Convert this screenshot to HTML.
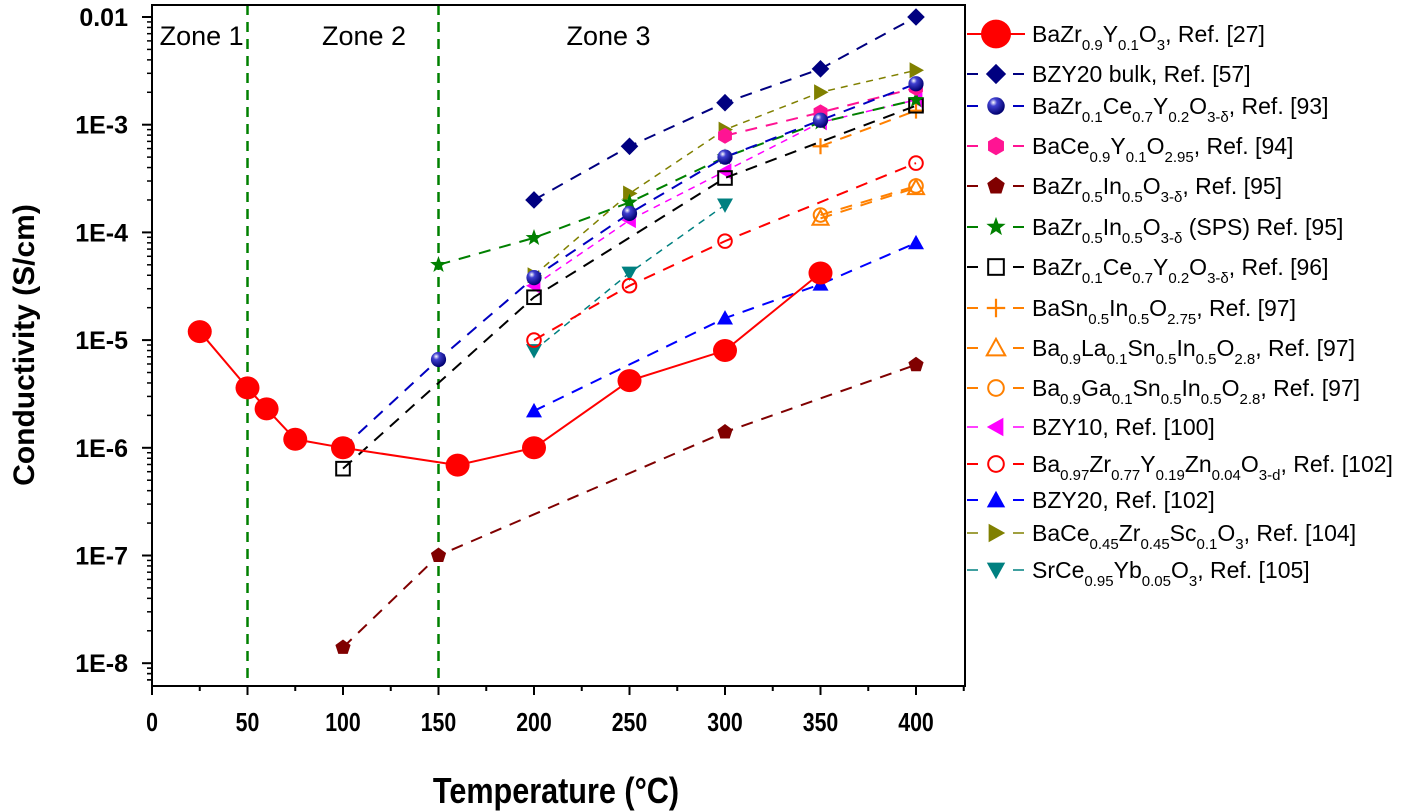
<!DOCTYPE html>
<html><head><meta charset="utf-8"><style>
html,body{margin:0;padding:0;background:#fff;}
svg{display:block;font-family:"Liberation Sans",Arial,sans-serif;}
</style></head><body>
<svg id="chart" width="1417" height="812" viewBox="0 0 1417 812" xmlns="http://www.w3.org/2000/svg">
<defs>
<radialGradient id="sph" cx="0.35" cy="0.3" r="0.7">
<stop offset="0" stop-color="#ffffff"/><stop offset="0.3" stop-color="#4040d0"/><stop offset="1" stop-color="#000070"/>
</radialGradient>
</defs>
<g id="grid-layer"></g>
<g id="axes"></g>
<g id="series"></g>
<g id="legend"></g>
</svg>
<script>
const xTicks=[0,50,100,150,200,250,300,350,400];
const yTickExp=[-2,-3,-4,-5,-6,-7,-8];
const yTickLabels=["0.01","1E-3","1E-4","1E-5","1E-6","1E-7","1E-8"];
const zoneLines=[50,150];
const zoneLabels=["Zone 1","Zone 2","Zone 3"];
const zoneLabelT=[4,89,217];

const sRedT=[25,50,60,75,100,160,200,250,300,350];
const sRedV=[1.2e-5,3.6e-6,2.3e-6,1.2e-6,1.0e-6,6.9e-7,1.0e-6,4.2e-6,8.0e-6,4.2e-5];
const sBulkT=[200,250,300,350,400];
const sBulkV=[2.0e-4,6.3e-4,1.6e-3,3.3e-3,1.0e-2];
const sSphT=[100,150,200,250,300,350,400];
const sSphV=[1.0e-6,6.6e-6,3.8e-5,1.5e-4,5.0e-4,1.1e-3,2.4e-3];
const sHexT=[300,350,400];
const sHexV=[7.9e-4,1.3e-3,2.2e-3];
const sPentT=[100,150,300,400];
const sPentV=[1.4e-8,1.0e-7,1.4e-6,5.9e-6];
const sStarT=[150,200,250,300,350,400];
const sStarV=[5.0e-5,8.9e-5,1.9e-4,5.0e-4,1.05e-3,1.7e-3];
const sSqT=[100,200,300,400];
const sSqV=[6.4e-7,2.5e-5,3.2e-4,1.5e-3];
const sPlusT=[350,400];
const sPlusV=[6.3e-4,1.35e-3];
const sOTriT=[350,400];
const sOTriV=[1.35e-4,2.6e-4];
const sOCirT=[350,400];
const sOCirV=[1.45e-4,2.7e-4];
const sLTriT=[200,250,300,350,400];
const sLTriV=[3.2e-5,1.3e-4,3.7e-4,1.05e-3,1.7e-3];
const sRCirT=[200,250,300,400];
const sRCirV=[1.0e-5,3.2e-5,8.3e-5,4.4e-4];
const sUTriT=[200,300,350,400];
const sUTriV=[2.2e-6,1.6e-5,3.3e-5,8.0e-5];
const sRTriT=[200,250,300,350,400];
const sRTriV=[4.0e-5,2.3e-4,9.0e-4,2.0e-3,3.2e-3];
const sDTriT=[200,250,300];
const sDTriV=[8.0e-6,4.2e-5,1.8e-4];

const NS="http://www.w3.org/2000/svg";
const X0=152,XS=1.91,Y2=17,YD=107.7;
const L=152,R=965,T=5,B=686;
function xs(t){return X0+XS*t;}
function ys(v){return Y2+(-2-Math.log10(v))*YD;}
function el(tag,attrs,parent){const e=document.createElementNS(NS,tag);for(const k in attrs)e.setAttribute(k,attrs[k]);parent.appendChild(e);return e;}
const axes=document.getElementById('axes');
const grid=document.getElementById('grid-layer');
const ser=document.getElementById('series');
const leg=document.getElementById('legend');

const fr=el('rect',{x:L,y:T,width:R-L,height:B-T,fill:'none',stroke:'#000','stroke-width':2},axes);



xTicks.forEach(t=>{
  const x=xs(t);
  el('line',{x1:x,y1:B,x2:x,y2:B+9,stroke:'#000','stroke-width':2},axes);
  const tx=el('text',{x:x,y:B+45,'text-anchor':'middle','font-size':26,'font-weight':'bold',transform:`translate(${x},0) scale(0.82,1) translate(${-x},0)`},axes);
  tx.textContent=t;
  
  
});
for(let t=25;t<=425;t+=50){const x=xs(t);el('line',{x1:x,y1:B,x2:x,y2:B+5,stroke:'#000','stroke-width':2},axes);}
yTickExp.forEach((e,i)=>{
  const y=ys(Math.pow(10,e));
  el('line',{x1:L-10,y1:y,x2:L,y2:y,stroke:'#000','stroke-width':2},axes);
  const tx=el('text',{x:128,y:y+9,'text-anchor':'end','font-size':25,'font-weight':'bold'},axes);
  tx.textContent=yTickLabels[i];
  
  
  for(let m=2;m<=9;m++){const v=m*Math.pow(10,e-1);const yy=ys(v);if(yy<B&&yy>T)el('line',{x1:L-5,y1:yy,x2:L,y2:yy,stroke:'#000','stroke-width':1.5},axes);}
});
for(let m=2;m<=9;m++){const yy=ys(m*1e-9);if(yy<B)el('line',{x1:L-5,y1:yy,x2:L,y2:yy,stroke:'#000','stroke-width':1.5},axes);}

const xt=el('text',{x:556,y:803,'text-anchor':'middle','font-size':36,'font-weight':'bold',transform:'translate(556,0) scale(0.85,1) translate(-556,0)'},axes);
xt.textContent='Temperature (°C)';


const yt=el('text',{x:0,y:0,'text-anchor':'middle','font-size':30,'font-weight':'bold',transform:'translate(34,345) rotate(-90)'},axes);
yt.textContent='Conductivity (S/cm)';



zoneLines.forEach(t=>{
  const ln=el('line',{x1:xs(t),y1:T,x2:xs(t),y2:B,stroke:'#008000','stroke-width':2.5,'stroke-dasharray':'10 7'},grid);
  
  
});
zoneLabels.forEach((s,i)=>{
  const tx=el('text',{x:xs(zoneLabelT[i]),y:45,'font-size':27},grid);
  tx.textContent=s;
  
  
});

function marker(type,x,y,color,g,sc){
  sc=sc||1;
  const r=8*sc;
  switch(type){
    case 'bigcircle': return el('ellipse',{cx:x,cy:y,rx:12*sc,ry:11.5*sc,fill:color},g);
    case 'diamond': return el('polygon',{points:`${x},${y-r*1.1} ${x+r*1.1},${y} ${x},${y+r*1.1} ${x-r*1.1},${y}`,fill:color},g);
    case 'sphere': return el('circle',{cx:x,cy:y,r:r*0.95,fill:'url(#sph)'},g);
    case 'hex': {let p=[];for(let k=0;k<6;k++){const a=Math.PI/6+k*Math.PI/3;p.push((x+r*Math.cos(a))+','+(y+r*Math.sin(a)));}return el('polygon',{points:p.join(' '),fill:color},g);}
    case 'pent': {let p=[];for(let k=0;k<5;k++){const a=-Math.PI/2+k*2*Math.PI/5;p.push((x+r*Math.cos(a))+','+(y+r*Math.sin(a)));}return el('polygon',{points:p.join(' '),fill:color},g);}
    case 'star': {let p=[];for(let k=0;k<10;k++){const a=-Math.PI/2+k*Math.PI/5;const rr=k%2?r*0.45:r*1.1;p.push((x+rr*Math.cos(a))+','+(y+rr*Math.sin(a)));}return el('polygon',{points:p.join(' '),fill:color},g);}
    case 'square': return el('rect',{x:x-r*0.85,y:y-r*0.85,width:r*1.7,height:r*1.7,fill:'#fff','fill-opacity':0,stroke:color,'stroke-width':2},g);
    case 'plus': return el('path',{d:`M${x-r},${y}H${x+r}M${x},${y-r}V${y+r}`,stroke:color,'stroke-width':2.2,fill:'none'},g);
    case 'otri': return el('polygon',{points:`${x},${y-r} ${x+r},${y+r*0.8} ${x-r},${y+r*0.8}`,fill:'none',stroke:color,'stroke-width':2},g);
    case 'ocir': return el('circle',{cx:x,cy:y,r:r*0.85,fill:'none',stroke:color,'stroke-width':2},g);
    case 'ltri': return el('polygon',{points:`${x-r},${y} ${x+r*0.8},${y-r} ${x+r*0.8},${y+r}`,fill:color},g);
    case 'rtri': return el('polygon',{points:`${x+r},${y} ${x-r*0.8},${y-r} ${x-r*0.8},${y+r}`,fill:color},g);
    case 'utri': return el('polygon',{points:`${x},${y-r} ${x+r},${y+r*0.8} ${x-r},${y+r*0.8}`,fill:color},g);
    case 'dtri': return el('polygon',{points:`${x},${y+r} ${x+r},${y-r*0.8} ${x-r},${y-r*0.8}`,fill:color},g);
  }
}

const seriesDefs=[
 {n:'series-bazry-ref27',T:sRedT,V:sRedV,c:'#ff0000',m:'bigcircle',d:'',w:2},
 {n:'series-bzy20-bulk',T:sBulkT,V:sBulkV,c:'#000080',m:'diamond',d:'12 9',w:2},
 {n:'series-bazrcey-ref93',T:sSphT,V:sSphV,c:'#0000c0',m:'sphere',d:'12 9',w:2},
 {n:'series-bacey-ref94',T:sHexT,V:sHexV,c:'#ff1493',m:'hex',d:'12 9',w:2},
 {n:'series-bazrin-ref95',T:sPentT,V:sPentV,c:'#800000',m:'pent',d:'12 9',w:2},
 {n:'series-bazrin-sps',T:sStarT,V:sStarV,c:'#008000',m:'star',d:'12 9',w:2},
 {n:'series-bazrcey-ref96',T:sSqT,V:sSqV,c:'#000000',m:'square',d:'12 9',w:2},
 {n:'series-basnin',T:sPlusT,V:sPlusV,c:'#ff8000',m:'plus',d:'12 9',w:2},
 {n:'series-balasnin',T:sOTriT,V:sOTriV,c:'#ff8000',m:'otri',d:'12 9',w:2},
 {n:'series-bagasnin',T:sOCirT,V:sOCirV,c:'#ff8000',m:'ocir',d:'12 9',w:2},
 {n:'series-bzy10',T:sLTriT,V:sLTriV,c:'#ff00ff',m:'ltri',d:'7 6',w:1.5},
 {n:'series-bazryzn',T:sRCirT,V:sRCirV,c:'#ff0000',m:'ocir',d:'12 9',w:2},
 {n:'series-bzy20-ref102',T:sUTriT,V:sUTriV,c:'#0000ff',m:'utri',d:'12 9',w:2},
 {n:'series-bacezrsc',T:sRTriT,V:sRTriV,c:'#808000',m:'rtri',d:'7 6',w:1.5},
 {n:'series-srceyb',T:sDTriT,V:sDTriV,c:'#008080',m:'dtri',d:'7 6',w:1.5}
];
[...seriesDefs].reverse().forEach(s=>{
  const g=el('g',{},ser);
  
  
  const pts=s.T.map((t,i)=>xs(t)+','+ys(s.V[i])).join(' ');
  const pl=el('polyline',{points:pts,fill:'none',stroke:s.c,'stroke-width':s.w,'stroke-dasharray':s.d},g);
  
  
  s.T.forEach((t,i)=>{
    const mk=marker(s.m,xs(t),ys(s.V[i]),s.c,g);
    
    
  });
});

const legendRows=[
 [['BaZr'],['0.9',1],['Y'],['0.1',1],['O'],['3',1],[', Ref. [27]']],
 [['BZY20 bulk, Ref. [57]']],
 [['BaZr'],['0.1',1],['Ce'],['0.7',1],['Y'],['0.2',1],['O'],['3-δ',1],[', Ref. [93]']],
 [['BaCe'],['0.9',1],['Y'],['0.1',1],['O'],['2.95',1],[', Ref. [94]']],
 [['BaZr'],['0.5',1],['In'],['0.5',1],['O'],['3-δ',1],[', Ref. [95]']],
 [['BaZr'],['0.5',1],['In'],['0.5',1],['O'],['3-δ',1],[' (SPS) Ref. [95]']],
 [['BaZr'],['0.1',1],['Ce'],['0.7',1],['Y'],['0.2',1],['O'],['3-δ',1],[', Ref. [96]']],
 [['BaSn'],['0.5',1],['In'],['0.5',1],['O'],['2.75',1],[', Ref. [97]']],
 [['Ba'],['0.9',1],['La'],['0.1',1],['Sn'],['0.5',1],['In'],['0.5',1],['O'],['2.8',1],[', Ref. [97]']],
 [['Ba'],['0.9',1],['Ga'],['0.1',1],['Sn'],['0.5',1],['In'],['0.5',1],['O'],['2.8',1],[', Ref. [97]']],
 [['BZY10, Ref. [100]']],
 [['Ba'],['0.97',1],['Zr'],['0.77',1],['Y'],['0.19',1],['Zn'],['0.04',1],['O'],['3-d',1],[', Ref. [102]']],
 [['BZY20, Ref. [102]']],
 [['BaCe'],['0.45',1],['Zr'],['0.45',1],['Sc'],['0.1',1],['O'],['3',1],[', Ref. [104]']],
 [['SrCe'],['0.95',1],['Yb'],['0.05',1],['O'],['3',1],[', Ref. [105]']]
];
const legendY=[34,74,106,146,186,227,267,308,348,388,427,464,500,533,570];
seriesDefs.forEach((s,i)=>{
  const y=legendY[i];
  const g=el('g',{},leg);
  
  
  if(s.d===''){
    el('line',{x1:967,y1:y,x2:1025,y2:y,stroke:s.c,'stroke-width':2},g);
  } else {
    el('line',{x1:967,y1:y,x2:978,y2:y,stroke:s.c,'stroke-width':s.w},g);
    el('line',{x1:1013,y1:y,x2:1024,y2:y,stroke:s.c,'stroke-width':s.w},g);
  }
  marker(s.m,996,y,s.c,g,s.m==='bigcircle'?1.25:1.15);
  const tx=el('text',{x:1032,y:y+8,'font-size':23},g);
  let shift=0;
  legendRows[i].forEach(p=>{
    const ts=document.createElementNS(NS,'tspan');
    ts.textContent=p[0];
    if(p[1]){ts.setAttribute('font-size','15');ts.setAttribute('dy',String(8-shift));shift=8;}
    else {ts.setAttribute('dy',String(-shift));shift=0;}
    tx.appendChild(ts);
  });
});
</script>
</body></html>
